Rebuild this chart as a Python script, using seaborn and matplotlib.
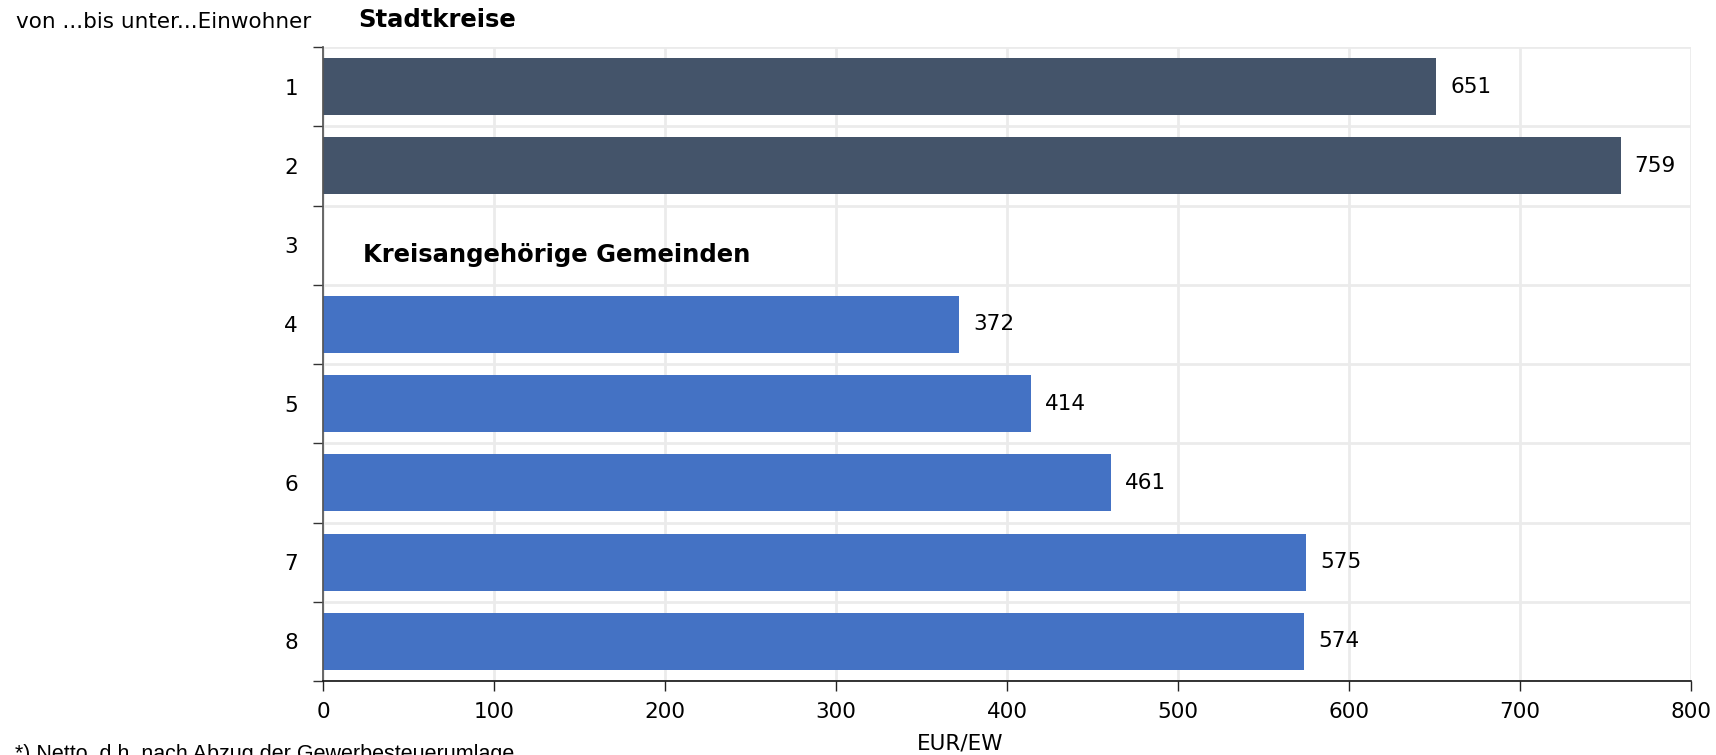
import numpy as np
import pandas as pd
import seaborn as sns
import matplotlib.pyplot as plt
from matplotlib.ticker import FixedLocator

# data
kategorien = ['1', '2', '3', '4', '5', '6', '7', '8']
bar_kategorien = ['1', '2', '4', '5', '6', '7', '8']
werte = [651, 759, 372, 414, 461, 575, 574]
gruppen = ['Stadtkreise', 'Stadtkreise',
           'Kreisangehörige Gemeinden', 'Kreisangehörige Gemeinden',
           'Kreisangehörige Gemeinden', 'Kreisangehörige Gemeinden',
           'Kreisangehörige Gemeinden']
x_ticks = [0, 100, 200, 300, 400, 500, 600, 700, 800]
farben = {'Stadtkreise': '#44546a', 'Kreisangehörige Gemeinden': '#4472c4'}

df = pd.DataFrame({'kat': bar_kategorien, 'wert': werte, 'gruppe': gruppen})

sns.set_theme(style='white')
plt.rcParams['font.family'] = ['DejaVu Sans']
plt.rcParams['text.color'] = 'black'
plt.rcParams['xtick.color'] = 'black'
plt.rcParams['ytick.color'] = 'black'
plt.rcParams['axes.labelcolor'] = 'black'

fs = 15.5
fs_bold = 17.5

fig = plt.figure(figsize=(17.16, 7.55), dpi=100)
ax = fig.add_axes([0.1882, 0.098, 0.9854 - 0.1882, 0.9377 - 0.098])

sns.barplot(data=df, x='wert', y='kat', hue='gruppe', order=kategorien,
            palette=farben, dodge=False, legend=False, width=0.72,
            orient='h', saturation=1, linewidth=0, ax=ax)

for c in ax.containers:
    ax.bar_label(c, fmt='%d', padding=10, fontsize=fs, color='black')

ax.set_xlim(0, 800)
ax.set_ylim(7.5, -0.5)
ax.set_xticks(x_ticks)
ax.set_xticklabels([str(t) for t in x_ticks], fontsize=fs)
ax.set_yticks(range(len(kategorien)))
ax.set_yticklabels(kategorien, fontsize=fs)
ax.yaxis.set_minor_locator(FixedLocator(np.arange(-0.5, 8, 1)))

ax.tick_params(axis='y', which='major', length=0, pad=18)
ax.tick_params(axis='y', which='minor', left=True, length=7, width=1, color='#333333')
ax.tick_params(axis='x', which='major', bottom=True, length=7, width=1, color='#222222', pad=8)

ax.set_axisbelow(True)
ax.grid(False)
ax.xaxis.grid(True, which='major', color='#ebebeb', lw=2)
ax.yaxis.grid(True, which='minor', color='#ebebeb', lw=2)

for s in ['top', 'right']:
    ax.spines[s].set_visible(False)
ax.spines['left'].set_color('#555555')
ax.spines['bottom'].set_color('#111111')
ax.spines['bottom'].set_linewidth(1.2)

ax.set_ylabel('')
ax.set_xlabel('EUR/EW', fontsize=fs)
ax.xaxis.set_label_coords(0.466, -0.083)

ax.text(23.4, 2.13, 'Kreisangehörige Gemeinden', fontsize=fs_bold, fontweight='bold',
        va='center', ha='left')

fig.text(16 / 1716, 0.971, 'von ...bis unter...Einwohner', fontsize=fs, va='center', ha='left')
fig.text(358 / 1716, 0.9735, 'Stadtkreise', fontsize=fs_bold, fontweight='bold', va='center', ha='left')
fig.text(15 / 1716, 0.014, '*) Netto, d.h. nach Abzug der Gewerbesteuerumlage',
         fontsize=fs, va='top', ha='left', family=['Liberation Sans'])

plt.savefig('out.png', dpi=100)
plt.close()
